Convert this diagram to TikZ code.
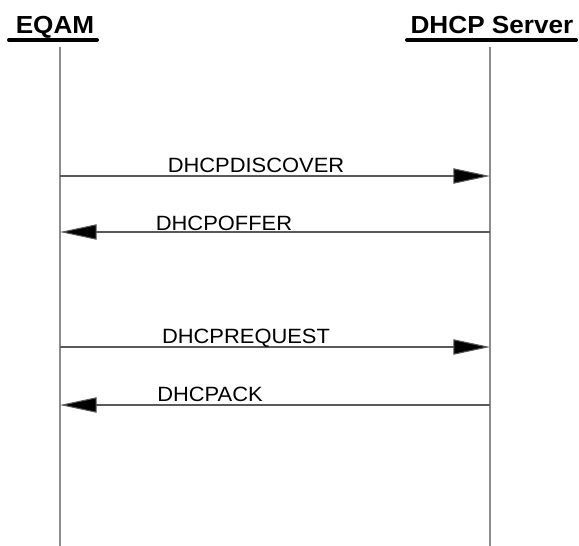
\documentclass[tikz,border=0pt]{standalone}
\usepackage{fontspec}
\setmainfont{Liberation Sans}
\usetikzlibrary{arrows.meta}
\tikzset{
  lifeline/.style={draw=gray!90, line width=1.4pt},
  msg/.style={draw=black!65, line width=0.8pt, -{Triangle[length=27.5pt, width=11.5pt, fill=black]}},
  msglabel/.style={anchor=base, inner sep=0pt, font=\fontsize{15.5}{17}\selectfont},
  title/.style={anchor=base, inner sep=0pt, font=\bfseries\fontsize{18.5}{20}\selectfont},
  titlebar/.style={line width=3pt, line cap=round}
}
\newcommand{\wide}[1]{\scalebox{1.06}[1]{#1}}
\begin{document}
\begin{tikzpicture}[x=0.75pt, y=-0.75pt]
    % ==== Parameters (pixels, y downwards) ====
    \def\XEQAM{60} \def\XSRV{490}   % lifeline positions
    \def\YTOP{47} \def\YBOT{546}    % lifeline extent
    \useasboundingbox (0,0) rectangle (579,546);

    % Participants
    \node[title] (eqam) at (55,33) {\wide{EQAM}};
    \node[title] (server) at (492,33) {\wide{DHCP Server}};
    \draw[titlebar] (9,40) -- (97,40);
    \draw[titlebar] (407,40) -- (576,40);

    % Lifelines
    \coordinate (eqamtop) at (\XEQAM,\YTOP);
    \coordinate (eqambot) at (\XEQAM,\YBOT);
    \coordinate (srvtop) at (\XSRV,\YTOP);
    \coordinate (srvbot) at (\XSRV,\YBOT);
    \draw[lifeline] (eqamtop) -- (eqambot);
    \draw[lifeline] (srvtop) -- (srvbot);

    % Messages: y / direction
    \coordinate (e1) at (\XEQAM,176); \coordinate (s1) at (\XSRV,176);
    \coordinate (e2) at (\XEQAM,232); \coordinate (s2) at (\XSRV,232);
    \coordinate (e3) at (\XEQAM,347); \coordinate (s3) at (\XSRV,347);
    \coordinate (e4) at (\XEQAM,405); \coordinate (s4) at (\XSRV,405);
    \draw[msg] (e1) -- (s1);
    \draw[msg] (s2) -- (e2);
    \draw[msg] (e3) -- (s3);
    \draw[msg] (s4) -- (e4);

    % Message labels
    \node[msglabel] (discover) at (256,172) {\wide{DHCPDISCOVER}};
    \node[msglabel] (offer) at (224,230) {\wide{DHCPOFFER}};
    \node[msglabel] (request) at (246,343) {\wide{DHCPREQUEST}};
    \node[msglabel] (ack) at (210,401) {\wide{DHCPACK}};
\end{tikzpicture}
\end{document}
